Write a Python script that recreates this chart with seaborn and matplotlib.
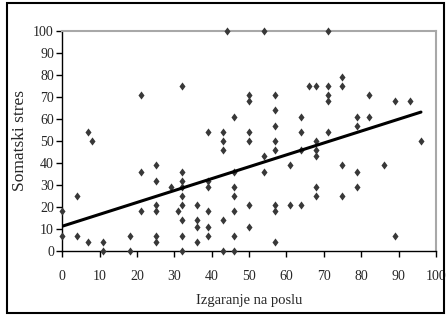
import seaborn as sns
import matplotlib.pyplot as plt
from matplotlib.patches import Rectangle

# Izgaranje na poslu (x) i somatski stres (y), očitano sa slike
izgaranje = [0, 0, 4, 4, 7, 7, 8, 11, 11, 18, 18, 21, 21, 21, 25, 25, 25, 25, 25, 25,
             29, 31, 32, 32, 32, 32, 32, 32, 32, 32, 32, 36, 36, 36, 36, 39, 39, 39, 39, 39,
             39, 43, 43, 43, 43, 43, 44, 46, 46, 46, 46, 46, 46, 46, 50, 50, 50, 50, 50, 50,
             54, 54, 54, 57, 57, 57, 57, 57, 57, 57, 57, 61, 61, 64, 64, 64, 64, 66, 68, 68,
             68, 68, 68, 68, 71, 71, 71, 71, 71, 75, 75, 75, 75, 79, 79, 79, 79, 82, 82, 86,
             89, 89, 93, 96]
stres = [18, 7, 25, 7, 4, 54, 50, 4, 0, 7, 0, 71, 36, 18, 39, 32, 21, 18, 7, 4,
         29, 18, 75, 36, 32, 29, 25, 21, 14, 7, 0, 21, 14, 11, 4, 54, 32, 29, 18, 11,
         7, 54, 50, 46, 14, 0, 100, 61, 36, 29, 25, 18, 7, 0, 71, 68, 54, 50, 21, 11,
         100, 43, 36, 71, 64, 57, 50, 46, 21, 18, 4, 39, 21, 61, 54, 46, 21, 75, 75, 50,
         46, 43, 29, 25, 100, 75, 71, 68, 54, 79, 75, 39, 25, 61, 57, 36, 29, 71, 61, 39,
         68, 7, 68, 50]

sns.set_style("white")
plt.rcParams['font.family'] = ['Liberation Serif', 'DejaVu Serif']

fig = plt.figure(figsize=(4.48, 3.16), dpi=100)
ax = fig.add_axes([0.139, 0.206, 0.834, 0.696])

# romb malo uži nego širi, kao na originalu
romb = [(0, 1), (0.75, 0), (0, -1), (-0.75, 0), (0, 1)]
sns.regplot(x=izgaranje, y=stres, ax=ax, ci=None, marker=romb,
            scatter_kws={'s': 34, 'color': '#383838', 'alpha': 1, 'zorder': 3,
                         'clip_on': False, 'linewidths': 0},
            line_kws={'color': 'black', 'lw': 2.2, 'zorder': 4})

ax.set_xlim(0, 100)
ax.set_ylim(0, 100)
ax.set_xticks(range(0, 101, 10))
ax.set_yticks(range(0, 101, 10))
ax.tick_params(axis='both', direction='out', length=4, width=1, color='black',
               labelsize=10, pad=2, left=True, bottom=True)
ax.tick_params(axis='x', pad=10)

for side in ['left', 'bottom']:
    ax.spines[side].set_color('black')
    ax.spines[side].set_linewidth(1)
for side in ['top', 'right']:
    ax.spines[side].set_color('#a8a8a8')
    ax.spines[side].set_linewidth(1.5)

ax.set_xlabel("Izgaranje na poslu", fontsize=10.5, labelpad=8)
ax.set_ylabel("Somatski stres", fontsize=12.5, labelpad=4)

# okvir oko cijele slike
fig.patches.append(Rectangle((7 / 448, 3 / 316), 437 / 448, 310 / 316,
                             transform=fig.transFigure, fill=False,
                             edgecolor='black', lw=1.5))

fig.savefig("out.png", dpi=100)
